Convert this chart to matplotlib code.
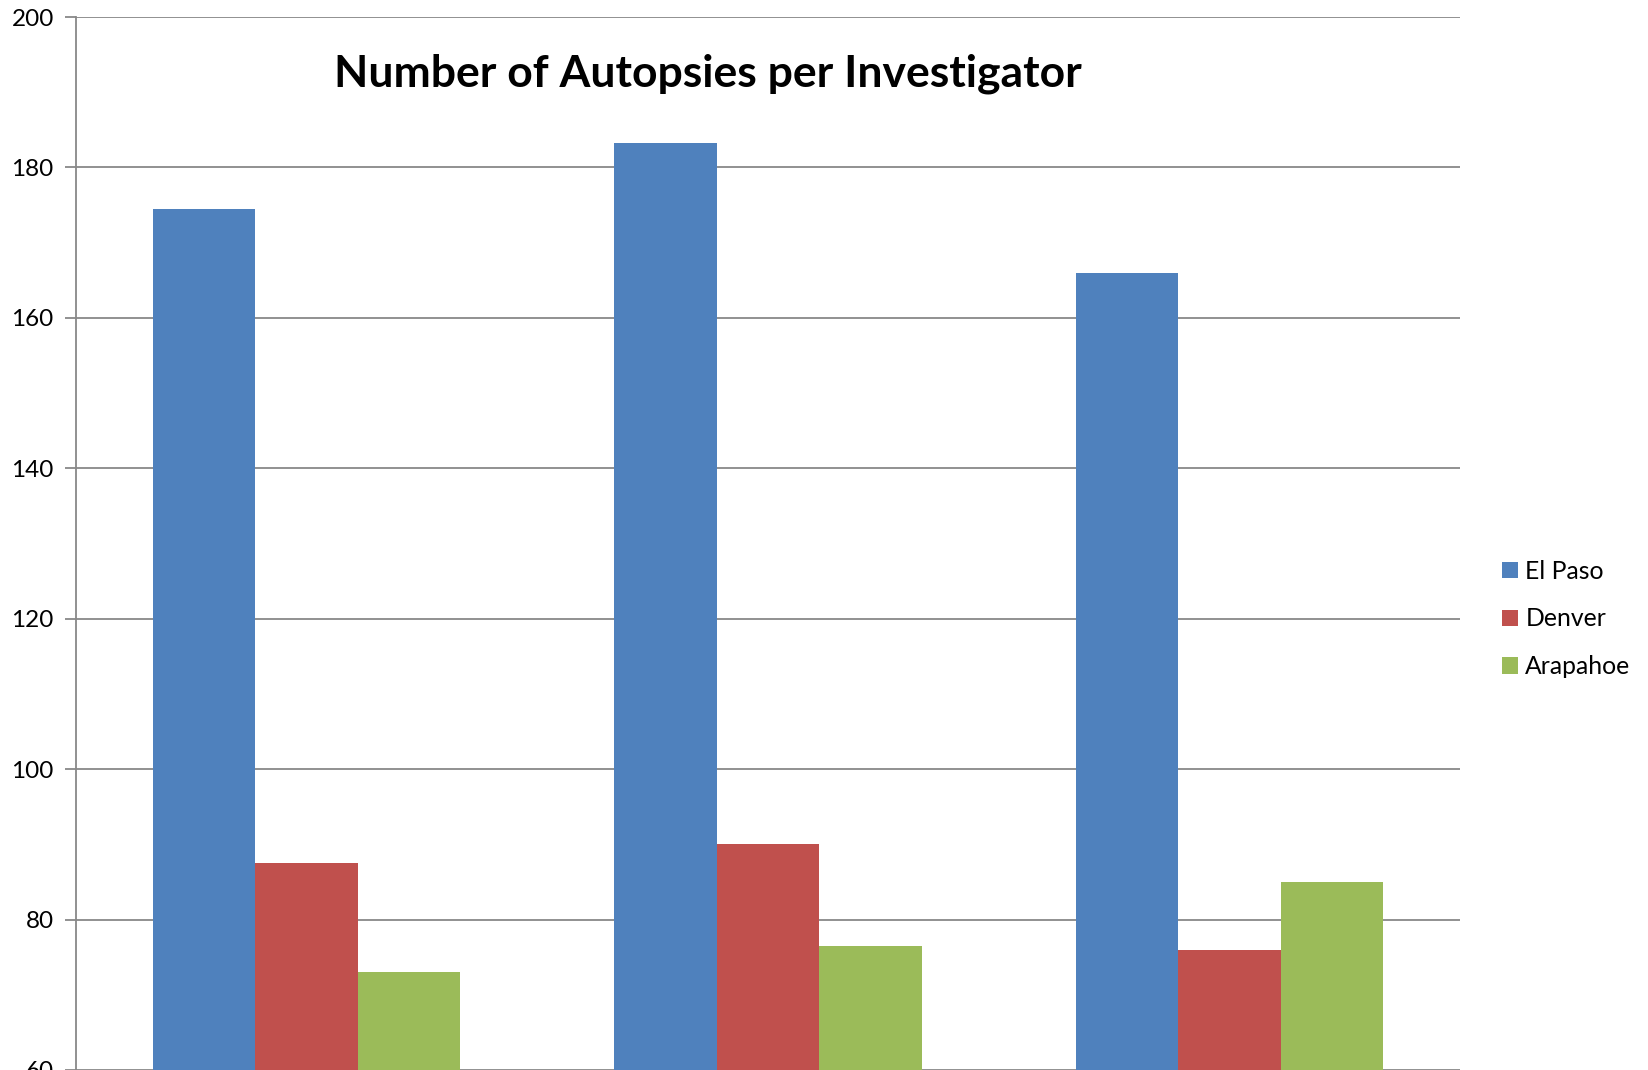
import matplotlib
matplotlib.use("Agg")
import matplotlib.pyplot as plt
import numpy as np

categories = ["Group 1", "Group 2", "Group 3"]
series_names = ["El Paso", "Denver", "Arapahoe"]
el_paso = [174.5, 183.3, 166.0]
denver = [87.5, 90.0, 76.0]
arapahoe = [73.0, 76.5, 85.0]
yticks = [60, 80, 100, 120, 140, 160, 180, 200]

colors = ["#4F81BD", "#C0504D", "#9BBB59"]
plt.rcParams['font.family'] = ['Lato', 'DejaVu Sans']

fig = plt.figure(figsize=(16.49, 10.70), dpi=100)
ax = fig.add_axes([76/1649, 0.0, (1460-76)/1649, 1 - 17/1070])

x = np.arange(len(categories))
w = 0.2222
for i, (vals, name) in enumerate(zip([el_paso, denver, arapahoe], series_names)):
    ax.bar(x + (i - 1) * w, vals, width=w, color=colors[i], label=name, zorder=3)

ax.set_xlim(-0.5, 2.5)
ax.set_ylim(60, 200)
ax.set_yticks(yticks)
ax.set_xticks([])
ax.yaxis.grid(True, color="#888888", linewidth=1.3, zorder=0)
for s in ["top", "right", "bottom"]:
    ax.spines[s].set_visible(False)
ax.spines["left"].set_color("#888888")
ax.spines["left"].set_linewidth(1.3)
ax.tick_params(axis="y", length=8, width=1.3, color="#888888", labelsize=17.5, pad=8)

fig.text(0.429, 0.931, "Number of Autopsies per Investigator", ha="center", va="center",
         fontsize=32, fontweight="bold")

leg = fig.legend(loc="center left", bbox_to_anchor=(1492/1649, 1 - 619/1070), frameon=False,
                 fontsize=17.8, handlelength=0.65, handleheight=0.65, handletextpad=0.3,
                 labelspacing=1.0, borderaxespad=0)

fig.savefig("out.png", dpi=100)
